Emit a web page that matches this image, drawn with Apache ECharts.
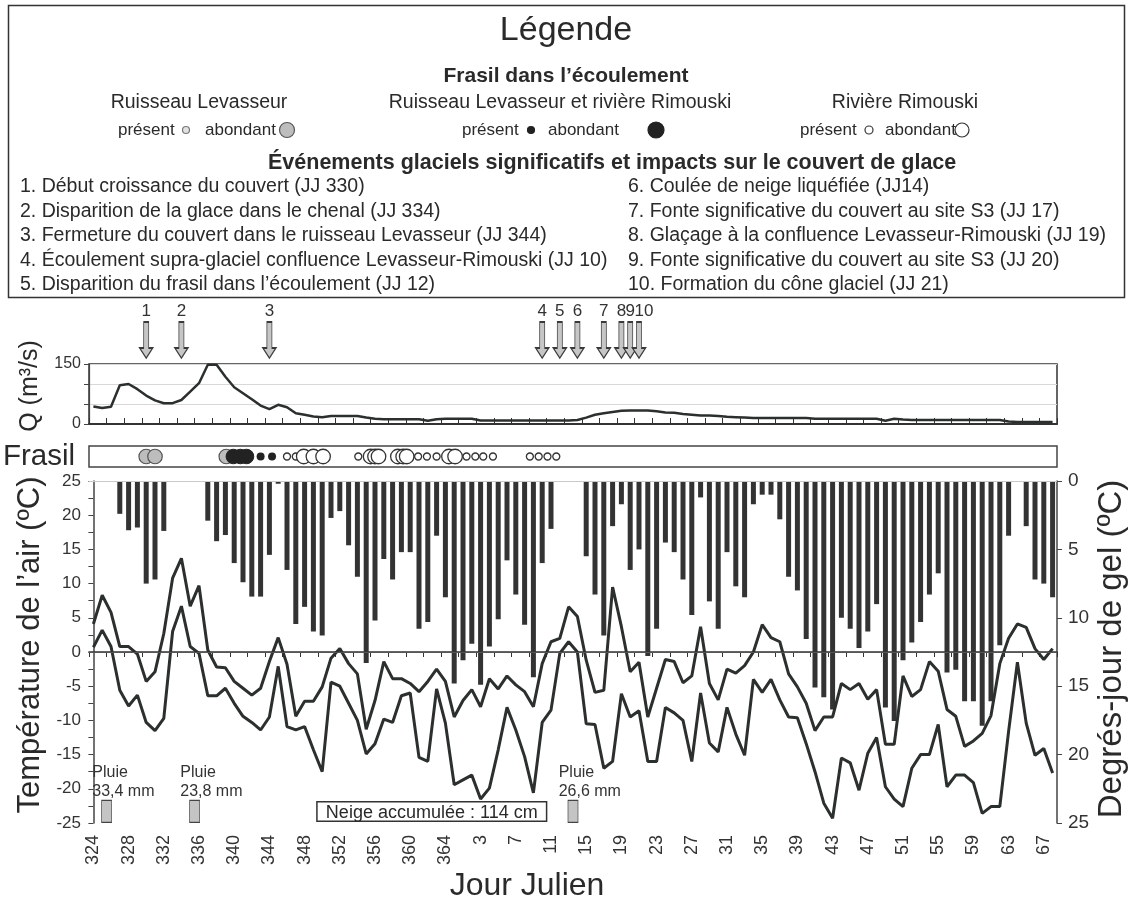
<!DOCTYPE html>
<html><head><meta charset="utf-8">
<script src="https://cdn.jsdelivr.net/npm/echarts@6/dist/echarts.min.js"></script>
<style>html,body{margin:0;padding:0;background:#fff;}#c{width:1132px;height:903px;}</style>
</head><body><div id="c"></div>
<script>
// ---------- DATA ----------
const days = ['324','325','326','327','328','329','330','331','332','333','334','335','336','337','338','339','340','341','342','343','344','345','346','347','348','349','350','351','352','353','354','355','356','357','358','359','360','361','362','363','364','365',
'1','2','3','4','5','6','7','8','9','10','11','12','13','14','15','16','17','18','19','20','21','22','23','24','25','26','27','28','29','30','31','32','33','34','35','36','37','38','39','40','41','42','43','44','45','46','47','48','49','50','51','52','53','54','55','56','57','58','59','60','61','62','63','64','65','66','67','68'];

// Débit Q (m3/s)
const discharge = [44,40,43,97,100,87,71,59,52,52, 60,81,102,148,148,118,92,77,62,46,
 37,48,42,27,23,19,17,20,20,20, 20,16,13,12,12,12,12,12,8,12,
 13,13,13,13,9,9,9,9,9,9, 9,9,9,9,9,10,16,23,27,30,
 33,34,34,34,32,29,28,25,23,21, 21,20,18,17,16,15,15,15,15,15,
 15,15,13,13,13,13,13,13,13,13, 8,13,11,10,10,10,10,10,10,10,
 10,10,10,10,6,5,5,5,5,5];

// Température maximale de l'air (°C)
const tempMax = [4.1,8.3,5.8,0.8,0.8,-0.3,-4.3,-2.9,2.7,10.8,
 13.7,6.7,9.7,0.3,-2.2,-2.3,-4.3,-5.3,-6.3,-5.3,
 -1.4,2.1,-1.8,-9.4,-7.2,-7.2,-5.1,-0.9,0.5,-1.7,
 -3.2,-11.3,-7.1,-1.4,-3.9,-3.9,-4.6,-5.8,-4.3,-2.5,
 -4.3,-9.5,-7.1,-5.5,-8.0,-3.9,-5.4,-3.5,-4.8,-5.8,
 -8.0,-1.7,1.5,2.0,6.6,5.2,-1.2,-5.9,-5.6,9.5,
 3.7,-2.9,-1.5,-9.5,-5.3,-1.1,-1.4,-4.5,-3.5,3.7,
 -4.6,-7.0,-2.5,-3.1,-2.0,0.0,4.0,2.1,1.5,-3.2,
 -5.1,-7.5,-11.5,-9.5,-9.5,-4.6,-5.5,-4.6,-6.9,-5.5,
 -13.5,-13.5,-3.5,-6.5,-5.5,-1.4,-2.8,-8.4,-9.4,-13.8,
 -13.0,-11.9,-9.3,-1.7,2.0,4.1,3.6,0.5,-1.1,0.5];

// Température minimale de l'air (°C)
const tempMin = [0.7,3.2,0.8,-5.6,-7.9,-6.3,-10.3,-11.5,-9.7,3.0,
 6.7,0.8,-0.2,-6.4,-6.4,-5.3,-7.5,-9.4,-10.3,-11.4,
 -9.5,-2.1,-10.9,-11.4,-10.9,-14.3,-17.5,-4.4,-5.0,-7.5,
 -10.0,-14.9,-13.4,-9.8,-10.3,-6.4,-6.0,-15.4,-16.0,-5.4,
 -10.4,-19.4,-18.7,-18.0,-21.5,-19.9,-14.3,-8.1,-11.4,-15.3,
 -20.6,-10.3,-8.5,-0.2,1.5,0.0,-10.5,-10.6,-17.0,-16.0,
 -6.1,-9.5,-8.6,-16.0,-16.0,-8.1,-8.9,-10.0,-16.0,-6.0,
 -13.3,-14.6,-8.1,-12.0,-15.1,-4.0,-5.9,-4.0,-7.0,-9.5,
 -9.6,-13.4,-17.5,-22.1,-24.3,-15.5,-16.2,-20.2,-14.8,-12.5,
 -19.7,-21.5,-22.6,-17.0,-15.0,-15.0,-10.6,-19.7,-18.0,-18.0,
 -19.1,-23.6,-22.6,-22.6,-11.6,-1.5,-10.4,-15.1,-14.1,-17.7];

// Degrés-jour de gel (°C)
const frostDD = [null,null,null,2.4,3.6,3.4,7.5,7.2,3.65,null,
 null,null,null,2.9,4.4,3.95,6.0,7.4,8.45,8.45,
 5.4,0.2,6.5,10.45,9.2,11.0,11.3,2.7,2.2,4.7,
 7.0,13.3,10.2,5.7,7.2,5.2,5.2,10.8,10.3,4.0,
 8.5,14.8,13.1,11.9,14.9,12.1,10.1,5.8,8.3,10.5,
 14.35,6.0,3.5,null,null,null,5.5,8.3,11.3,3.3,
 1.7,6.5,5.0,12.8,10.8,4.5,5.2,7.2,9.8,1.2,
 8.8,10.8,5.2,7.7,8.5,1.7,1.0,1.0,2.8,7.0,
 8.0,11.55,15.1,15.8,16.7,10.0,10.8,12.2,11.0,9.0,
 16.55,17.55,13.1,11.8,10.3,8.3,6.75,14.0,13.8,16.1,
 16.1,17.9,16.1,12.0,4.0,null,3.3,7.2,7.5,8.5];

// Frasil observations (jour julien)
const frasilLevAbond = [330, 331, 339.1];
const frasilBothAbond = [339.9, 340.7, 341.4];
const frasilBothPres = [343, 344.3];
const frasilRimPres = [346, 347, 354.1, 360.9, 361.9, 363, 1.4, 2.4, 3.3, 4.4, 8.6, 9.6, 10.6, 11.6];
const frasilRimAbond = [347.9, 349, 350.1, 355.5, 356.0, 356.4, 358.6, 359.2, 359.6, 364.4, 365.1];

// Événements glaciels
const eventDays = ['330','334','344','10','12','14','17','19','20','21'];
const eventNums = ['1','2','3','4','5','6','7','8','9','10'];

// Pluie
const rainDays = [325.5, 335.5, 13.5];
const rainMM = ['33,4', '23,8', '26,6'];

// Neige accumulée
const snowPeriod = [349.4, 10.5];
const snowText = 'Neige accumulée : 114 cm';

const yTicksTemp = [-25, 25, 5];
const yTicksDD = [0, 25, 5];
const yTicksQ = [0, 150, 50];

const legendEvents = [
 '1. Début croissance du couvert (JJ 330)',
 '2. Disparition de la glace dans le chenal (JJ 334)',
 '3. Fermeture du couvert dans le ruisseau Levasseur (JJ 344)',
 '4. Écoulement supra-glaciel confluence Levasseur-Rimouski (JJ 10)',
 '5. Disparition du frasil dans l’écoulement (JJ 12)',
 '6. Coulée de neige liquéfiée (JJ14)',
 '7. Fonte significative du couvert au site S3 (JJ 17)',
 '8. Glaçage à la confluence Levasseur-Rimouski (JJ 19)',
 '9. Fonte significative du couvert au site S3 (JJ 20)',
 '10. Formation du cône glaciel (JJ 21)'
];

// ---------- CHART ----------
const FF = "'Liberation Sans', Arial, sans-serif";
const INK = '#2b2f2d';
const jjIdx = jj => (jj >= 324 ? jj - 324 : jj + 41);

const chart = echarts.init(document.getElementById('c'));

const openFrasil = frasilRimPres.map(d => ({jj: d, big: false}))
  .concat(frasilRimAbond.map(d => ({jj: d, big: true})))
  .sort((a, b) => jjIdx(a.jj) - jjIdx(b.jj));

function txt(x, y, text, size, opts) {
  opts = opts || {};
  return {type: 'text', x: x, y: y, rotation: opts.rot || 0, z: 100,
    style: {text: text, font: (opts.bold ? 'bold ' : '') + size + 'px ' + FF, fill: opts.fill || '#2a2a2a',
      align: opts.align || 'left', verticalAlign: 'middle'}};
}
function circ(cx, cy, r, fill, stroke) {
  return {type: 'circle', z: 100, shape: {cx: cx, cy: cy, r: r}, style: {fill: fill, stroke: stroke, lineWidth: 1.2}};
}

const graphic = [
  {type: 'rect', z: 99, shape: {x: 8.5, y: 5.5, width: 1116, height: 292}, style: {fill: '#fff', stroke: '#333', lineWidth: 1.5}},
  txt(566, 31, 'Légende', 34, {align: 'center'}),
  txt(566, 76, 'Frasil dans l’écoulement', 21, {align: 'center', bold: true}),
  txt(199, 103, 'Ruisseau Levasseur', 19.5, {align: 'center'}),
  txt(560, 103, 'Ruisseau Levasseur et rivière Rimouski', 19.5, {align: 'center'}),
  txt(905, 103, 'Rivière Rimouski', 19.5, {align: 'center'}),
  txt(118, 130, 'présent', 17), circ(186, 130, 3.5, '#e2e2e2', '#777'),
  txt(205, 130, 'abondant', 17), circ(287, 130, 7.5, '#bdbdbd', '#555'),
  txt(462, 130, 'présent', 17), circ(531, 130, 3.5, '#222', '#222'),
  txt(548, 130, 'abondant', 17), circ(656, 130, 8, '#222', '#222'),
  txt(800, 130, 'présent', 17), circ(869, 130, 4, '#fff', '#333'),
  txt(885, 130, 'abondant', 17), circ(962, 130, 7, '#fff', '#333'),
  txt(268, 163, 'Événements glaciels significatifs et impacts sur le couvert de glace', 21.5, {bold: true}),
  // axis titles
  txt(30, 386, 'Q (m³/s)', 25, {align: 'center', rot: Math.PI / 2}),
  txt(3, 457, 'Frasil', 29.5),
  txt(30, 645, 'Température de l’air (ºC)', 31, {align: 'center', rot: Math.PI / 2}),
  txt(1112, 649, 'Degrés-jour de gel (ºC)', 33, {align: 'center', rot: Math.PI / 2}),
  txt(527, 886, 'Jour Julien', 32, {align: 'center'})
];
const rowsY = [187, 212, 236, 261, 285];
legendEvents.forEach((t, i) => {
  graphic.push(txt(i < 5 ? 20 : 628, rowsY[i % 5], t, 19.5));
});

const axisCol = '#444';
const option = {
  animation: false,
  textStyle: {fontFamily: FF},
  graphic: graphic,
  grid: [
    {left: 89, right: 75, top: 481, height: 342, outerBoundsMode: 'none', containLabel: false},
    {left: 89, right: 75, top: 364, height: 60, show: true, borderColor: '#333', borderWidth: 1.5, outerBoundsMode: 'none', containLabel: false},
    {left: 89, right: 75, top: 446, height: 21, show: true, borderColor: '#444', borderWidth: 1.5, backgroundColor: '#fff', outerBoundsMode: 'none', containLabel: false},
    {left: 89, right: 75, top: 322, height: 36, outerBoundsMode: 'none', containLabel: false}
  ],
  xAxis: [
    {type: 'category', gridIndex: 0, data: days, boundaryGap: true,
     axisLine: {lineStyle: {color: '#333', width: 1.5}},
     axisTick: {show: true, interval: 1, length: 5, lineStyle: {color: '#333'}},
     axisLabel: {interval: 3, rotate: 90, fontSize: 18, color: '#333', margin: 12, fontFamily: FF},
     splitLine: {show: false}},
    {type: 'category', gridIndex: 1, data: days, boundaryGap: true, position: 'top',
     axisLine: {lineStyle: {color: '#333', width: 2}},
     axisTick: {show: true, interval: 1, length: 6, lineStyle: {color: '#333'}},
     axisLabel: {show: false}, splitLine: {show: false}},
    {type: 'value', gridIndex: 2, min: -0.5, max: days.length - 0.5, show: false},
    {type: 'category', gridIndex: 3, data: days, boundaryGap: true, show: false},
    {type: 'value', gridIndex: 0, min: -0.5, max: days.length - 0.5, show: false}
  ],
  yAxis: [
    {type: 'value', gridIndex: 0, min: yTicksTemp[0], max: yTicksTemp[1], interval: yTicksTemp[2], position: 'left',
     axisLine: {show: true, lineStyle: {color: axisCol, width: 1.5}},
     axisTick: {show: true, length: 5, lineStyle: {color: axisCol}},
     minorTick: {show: true, splitNumber: 2, length: 5, lineStyle: {color: axisCol}},
     splitLine: {show: false},
     axisLabel: {fontSize: 17, color: '#333', margin: 8, fontFamily: FF}},
    {type: 'value', gridIndex: 0, min: yTicksDD[0], max: yTicksDD[1], interval: yTicksDD[2], inverse: true, position: 'right',
     axisLine: {show: true, lineStyle: {color: axisCol, width: 1.5}},
     axisTick: {show: true, length: 5, lineStyle: {color: axisCol}},
     splitLine: {show: false},
     axisLabel: {fontSize: 19, color: '#333', margin: 11, fontFamily: FF}},
    {type: 'value', gridIndex: 1, min: yTicksQ[0], max: yTicksQ[1], interval: yTicksQ[2],
     axisLine: {show: true, lineStyle: {color: axisCol, width: 1.2}},
     axisTick: {show: true, length: 5, lineStyle: {color: axisCol}},
     splitLine: {show: true, lineStyle: {color: '#d8d8d8', width: 1}},
     axisLabel: {fontSize: 16, color: '#333', margin: 8, fontFamily: FF,
       formatter: v => (v === yTicksQ[0] || v === yTicksQ[1]) ? String(v) : ''}},
    {type: 'value', gridIndex: 2, min: 0, max: 1, show: false},
    {type: 'value', gridIndex: 3, min: 0, max: 1, show: false}
  ],
  series: [
    {name: 'Degrés-jour de gel', type: 'bar', xAxisIndex: 0, yAxisIndex: 1, data: frostDD, barWidth: 5,
     itemStyle: {color: '#333'}, z: 2},
    {name: 'Tmax', type: 'line', xAxisIndex: 0, yAxisIndex: 0, data: tempMax, symbol: 'none', z: 3,
     lineStyle: {color: INK, width: 3}, itemStyle: {color: INK},
     markLine: {silent: true, symbol: ['none', 'none'], label: {show: false},
       data: [{yAxis: 0, lineStyle: {color: '#555', width: 1.2, type: 'solid'}},
              {yAxis: yTicksTemp[1], lineStyle: {color: '#c9c9c9', width: 1, type: 'solid'}}]}},
    {name: 'Tmin', type: 'line', xAxisIndex: 0, yAxisIndex: 0, data: tempMin, symbol: 'none', z: 3,
     lineStyle: {color: INK, width: 3}, itemStyle: {color: INK}},
    {name: 'Q', type: 'line', xAxisIndex: 1, yAxisIndex: 2, data: discharge, symbol: 'none',
     lineStyle: {color: INK, width: 2.5}, itemStyle: {color: INK}},
    {name: 'Frasil Levasseur abondant', type: 'scatter', xAxisIndex: 2, yAxisIndex: 3, symbolSize: 14.5,
     data: frasilLevAbond.map(d => [jjIdx(d), 0.5]), itemStyle: {color: '#bdbdbd', borderColor: '#555', borderWidth: 1.2, opacity: 1}},
    {name: 'Frasil Lev+Rim abondant', type: 'scatter', xAxisIndex: 2, yAxisIndex: 3, symbolSize: 14.5,
     data: frasilBothAbond.map(d => [jjIdx(d), 0.5]), itemStyle: {color: '#222', borderColor: '#222', borderWidth: 1, opacity: 1}},
    {name: 'Frasil Lev+Rim présent', type: 'scatter', xAxisIndex: 2, yAxisIndex: 3, symbolSize: 8,
     data: frasilBothPres.map(d => [jjIdx(d), 0.5]), itemStyle: {color: '#222', opacity: 1}},
    {name: 'Frasil Rimouski', type: 'scatter', xAxisIndex: 2, yAxisIndex: 3,
     data: openFrasil.map(o => ({value: [jjIdx(o.jj), 0.5], symbolSize: o.big ? 14.5 : 7})),
     itemStyle: {color: '#fff', borderColor: '#333', borderWidth: 1.3, opacity: 1}},
    {name: 'Événements', type: 'scatter', xAxisIndex: 3, yAxisIndex: 4, clip: false,
     symbol: 'path://M4,0 L9,0 L9,26 L13,26 L6.5,36 L0,26 L4,26 Z', symbolSize: [13, 36],
     itemStyle: {color: '#c6c6c6', borderColor: '#3a3a3a', borderWidth: 1.2, opacity: 1},
     label: {show: true, position: 'top', distance: 1, fontSize: 17, color: '#333', fontFamily: FF,
       formatter: p => eventNums[p.dataIndex]},
     data: eventDays.map((d, i) => ({value: [d, 0.5], label: i === 9 ? {offset: [5, 0]} : undefined}))},
    {name: 'Pluie', type: 'scatter', xAxisIndex: 4, yAxisIndex: 0, clip: false,
     symbol: 'rect', symbolSize: [10, 22],
     itemStyle: {color: '#c4c4c4', borderColor: '#444', borderWidth: 1, opacity: 1},
     label: {show: true, position: [-9, -37], align: 'left', verticalAlign: 'top', fontSize: 16, lineHeight: 19,
       color: '#333', fontFamily: FF, formatter: p => 'Pluie\n' + rainMM[p.dataIndex] + ' mm'},
     data: rainDays.map(d => [jjIdx(d), -23.3])},
    {name: 'Neige', type: 'custom', xAxisIndex: 4, yAxisIndex: 0, clip: false,
     data: [[jjIdx(snowPeriod[0]), jjIdx(snowPeriod[1]), -21.9, -24.75]],
     renderItem: function (params, api) {
       const p0 = api.coord([api.value(0), api.value(2)]);
       const p1 = api.coord([api.value(1), api.value(3)]);
       return {type: 'group', children: [
         {type: 'rect', shape: {x: p0[0], y: p0[1], width: p1[0] - p0[0], height: p1[1] - p0[1]},
          style: {fill: '#fff', stroke: '#333', lineWidth: 1.5}},
         {type: 'text', style: {text: snowText, x: (p0[0] + p1[0]) / 2, y: (p0[1] + p1[1]) / 2 + 1,
          align: 'center', verticalAlign: 'middle', font: '18px ' + FF, fill: '#2a2a2a'}}
       ]};
     }}
  ]
};
chart.setOption(option);
</script>
</body></html>
